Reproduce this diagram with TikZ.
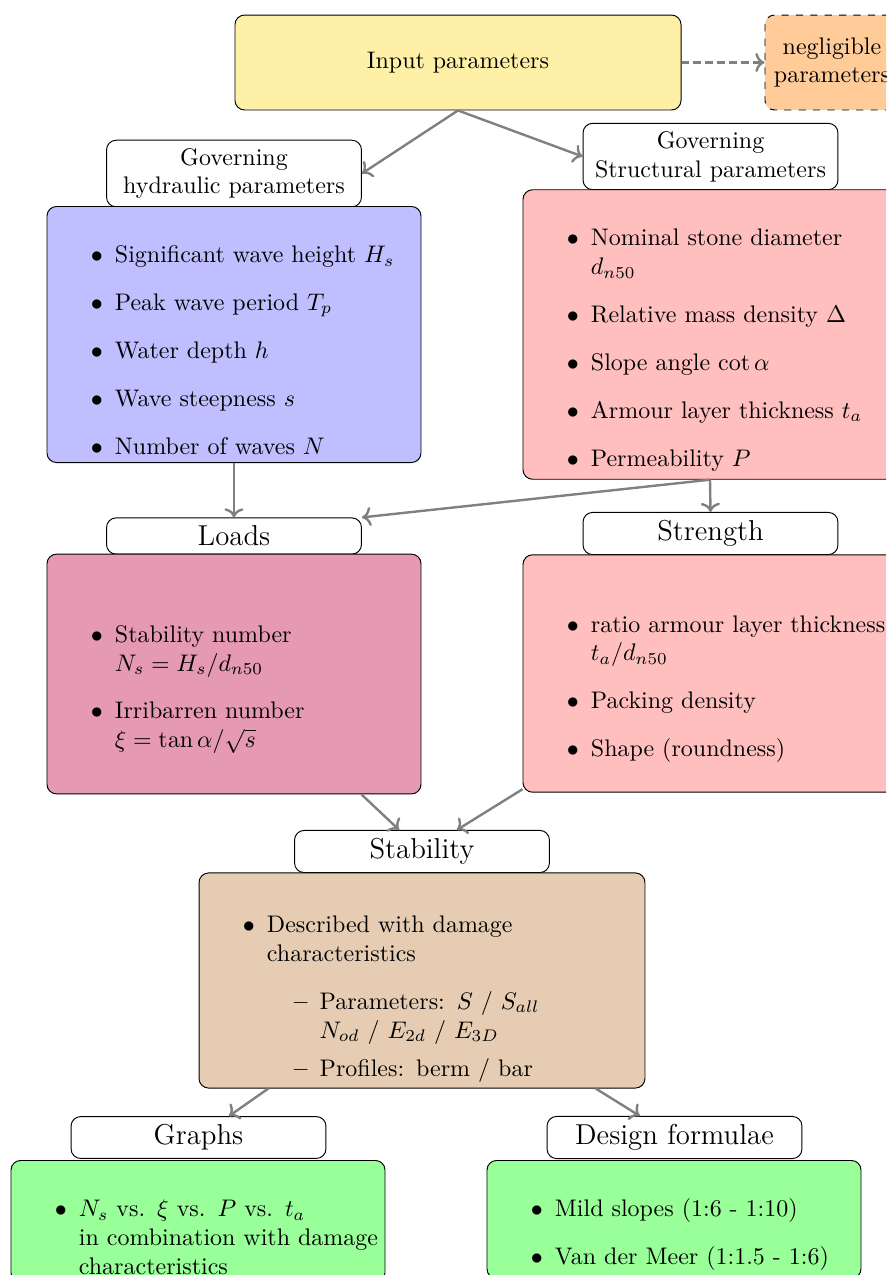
\documentclass[tikz,border=0pt]{standalone}
\usepackage{amsmath,amssymb}
\usepackage[dvipsnames]{xcolor}
\usepackage{tikz}
\usetikzlibrary{arrows.meta,positioning}
\renewcommand{\labelitemi}{$\bullet$}
\tikzset{box/.style={draw,rounded corners,text width=149.3pt,minimum height=106pt},
  tag/.style={draw,rounded corners,fill=white,align=center,minimum width=106.3pt},
  arr/.style={->,line width=1pt,gray}}

\begin{document}
\begin{tikzpicture}[x=0.417pt,y=-0.417pt]
\useasboundingbox (0,0) rectangle (886,1275);
\clip (0,0) rectangle (886,1275);
% top row
\node[draw,rounded corners,fill=Goldenrod!40,minimum width=186pt,minimum height=39.6pt] (inp) at (458,62.5) {Input parameters};
\node[draw,dashed,rounded corners,fill=orange!40,align=center,minimum width=55.9pt,minimum height=39.6pt] (negl) at (832,62.5) {negligible\\parameters};
\node[tag,minimum height=27.1pt] (govh) at (234,173.5) {Governing\\hydraulic parameters};
\node[tag,minimum height=27.1pt] (govs) at (710.5,156.5) {Governing\\Structural parameters};
% parameter lists
\node[box,fill=blue!25,minimum height=106.3pt] (hydr) at (234,334.5) {\begin{itemize}
  \item Significant wave height $H_s$
  \item Peak wave period $T_p$
  \item Water depth $h$
  \item Wave steepness $s$
  \item Number of waves $N$
\end{itemize}};
\node[box,fill=red!25,minimum height=120.5pt] (struc) at (710,334.5) {\begin{itemize}
  \item Nominal stone diameter\\ $d_{n50}$
  \item Relative mass density $\Delta$
  \item Slope angle $\cot\alpha$
  \item Armour layer thickness $t_a$
  \item Permeability $P$
\end{itemize}};
% loads and strength
\node[tag,font=\large,minimum height=14.2pt] (loads) at (234,536) {Loads};
\node[tag,font=\large,minimum height=16.3pt] (str) at (710.5,533.5) {Strength};
\node[box,fill=purple!40,minimum height=100pt] (ldbox) at (234,674) {\begin{itemize}
  \item Stability number\\ $N_s=H_s/d_{n50}$
  \item Irribarren number\\ $\xi=\tan\alpha/\sqrt{s}$
\end{itemize}};
\node[box,fill=red!25,minimum height=99pt] (stbox) at (710,673.5) {\begin{itemize}
  \item ratio armour layer thickness\\ $t_a/d_{n50}$
  \item Packing density
  \item Shape (roundness)
\end{itemize}};
% stability
\node[tag,font=\large,minimum height=17.1pt] (stab) at (422,851.5) {Stability};
\node[box,fill=brown!40,text width=179.3pt,minimum height=89.7pt] (dmg) at (422,980.5) {\begin{itemize}
  \item Described with damage characteristics
  \begin{itemize}
    \item Parameters: $S$ / $S_{all}$\\ $N_{od}$ / $E_{2d}$ / $E_{3D}$
    \item Profiles: berm / bar
  \end{itemize}
\end{itemize}};
% results
\node[tag,font=\large,minimum height=17.1pt] (graphs) at (198.5,1137.5) {Graphs};
\node[tag,font=\large,minimum height=17.1pt] (design) at (674.5,1137.5) {Design formulae};
\node[box,fill=green!40,anchor=north,minimum height=49pt] (grbox) at (198,1160) {\begin{itemize}
  \item $N_s$ vs. $\xi$ vs. $P$ vs. $t_a$\\ \mbox{in combination with damage}\\ characteristics
\end{itemize}};
\node[box,fill=green!40,anchor=north,minimum height=49pt] (dfbox) at (674,1160) {\begin{itemize}
  \item Mild slopes (1:6 - 1:10)
  \item Van der Meer (1:1.5 - 1:6)
\end{itemize}};
% connectors
\draw[arr,dash pattern=on 3pt off 2pt] (inp) -- (negl);
\draw[arr] (inp.south) -- (govh.east);
\draw[arr] (inp.south) -- (govs.west);
\draw[arr] (hydr) -- (loads);
\draw[arr] (struc.south) -- (str.north);
\draw[arr] (struc.south) -- (loads.north east);
\draw[arr] (ldbox) -- (stab);
\draw[arr] (stbox) -- (stab);
\draw[arr] (dmg) -- (graphs);
\draw[arr] (dmg) -- (design);
\end{tikzpicture}
\end{document}
